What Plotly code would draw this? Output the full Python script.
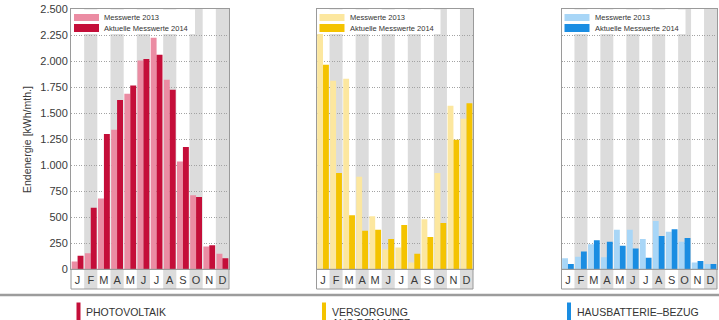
import plotly.graph_objects as go

months = ["J", "F", "M", "A", "M", "J", "J", "A", "S", "O", "N", "D"]
y_ticks = [0, 250, 500, 750, 1000, 1250, 1500, 1750, 2000, 2250, 2500]

pv_2013 = [75, 155, 680, 1340, 1685, 2005, 2225, 1820, 1035, 710, 220, 150]
pv_2014 = [130, 590, 1300, 1625, 1765, 2020, 2060, 1725, 1175, 695, 230, 105]
netz_2013 = [2330, 1810, 1830, 890, 510, 190, 210, 65, 480, 925, 1570, 1445]
netz_2014 = [1965, 925, 520, 370, 380, 290, 425, 150, 310, 445, 1245, 1595]
batt_2013 = [105, 120, 240, 115, 380, 380, 290, 465, 360, 265, 65, 50]
batt_2014 = [50, 170, 280, 265, 225, 200, 110, 320, 385, 300, 80, 50]

legend_labels = ["Messwerte 2013", "Aktuelle Messwerte 2014"]
panel_titles = [["PHOTOVOLTAIK"], ["VERSORGUNG", "AUS DEM NETZ"], ["HAUSBATTERIE\u2013BEZUG"]]
y_title = "Endenergie [kWh/mth.]"

W, H = 719, 320
FONT = "Liberation Sans, Arial, sans-serif"

panels = [
    dict(s13=pv_2013, s14=pv_2014, c13="#eb8ca3", c14="#c40e39", x0=71, x1=229),
    dict(s13=netz_2013, s14=netz_2014, c13="#fce79f", c14="#f4c300", x0=316.5, x1=473),
    dict(s13=batt_2013, s14=batt_2014, c13="#a8d6f7", c14="#1a8de2", x0=561.5, x1=717),
]

def px(x):
    return x / W

def py(y):
    return 1 - y / H

top_px, base_px, band_px = 9, 269.3, 289
x_idx = list(range(len(months)))

fig = go.Figure()
shapes = []
annotations = []

for k, p in enumerate(panels):
    sfx = "" if k == 0 else str(k + 1)
    xa, ya = "x" + sfx, "y" + sfx
    fig.add_trace(go.Bar(x=x_idx, y=p["s13"], marker=dict(color=p["c13"], line_width=0),
                         name=legend_labels[0], xaxis=xa, yaxis=ya, showlegend=False))
    fig.add_trace(go.Bar(x=x_idx, y=p["s14"], marker=dict(color=p["c14"], line_width=0),
                         name=legend_labels[1], xaxis=xa, yaxis=ya, showlegend=False))

    fig.update_layout(**{
        "xaxis" + sfx: dict(domain=[px(p["x0"]), px(p["x1"])], range=[-0.5, 11.5],
                            tickvals=x_idx, ticktext=months, ticks="", showgrid=False,
                            showline=True, mirror=True, linecolor="#9a9a9a", linewidth=1,
                            zeroline=False, anchor=ya, fixedrange=True, automargin=False,
                            tickfont=dict(family=FONT, size=11, color="#3a3a3a")),
        "yaxis" + sfx: dict(domain=[py(base_px), py(top_px)], range=[0, 2500],
                            tickvals=y_ticks, showticklabels=(k == 0),
                            separatethousands=True, ticks="", automargin=False,
                            showgrid=True, gridcolor="#a3a3a3", griddash="1px,1.5px", gridwidth=1,
                            showline=True, mirror=True, linecolor="#9a9a9a", linewidth=1,
                            zeroline=False, anchor=xa, fixedrange=True,
                            tickfont=dict(family=FONT, size=11, color="#3a3a3a")),
    })

    # alternating grey month stripes (plot area and month label band)
    for i in range(1, 12, 2):
        shapes.append(dict(type="rect", xref=xa, yref=ya + " domain", x0=i - 0.5, x1=i + 0.5,
                           y0=0, y1=1, fillcolor="#dcdcdc", line_width=0, layer="below"))
        shapes.append(dict(type="rect", xref=xa, yref="paper", x0=i - 0.5, x1=i + 0.5,
                           y0=py(band_px), y1=py(base_px), fillcolor="#dcdcdc", line_width=0,
                           layer="below"))
    # band outline
    shapes.append(dict(type="rect", xref="paper", yref="paper", x0=px(p["x0"]), x1=px(p["x1"]),
                       y0=py(band_px), y1=py(base_px), fillcolor="rgba(0,0,0,0)",
                       line=dict(color="#9a9a9a", width=1), layer="above"))

    # legend box
    lx = p["x0"]
    shapes.append(dict(type="rect", xref="paper", yref="paper", x0=px(lx + 0.5), x1=px(lx + 124),
                       y0=py(34), y1=py(9.5), fillcolor="white", line_width=0, layer="above"))
    shapes.append(dict(type="rect", xref="paper", yref="paper", x0=px(lx + 3), x1=px(lx + 28),
                       y0=py(21), y1=py(14), fillcolor=p["c13"], line_width=0, layer="above"))
    shapes.append(dict(type="rect", xref="paper", yref="paper", x0=px(lx + 3), x1=px(lx + 28),
                       y0=py(32), y1=py(24), fillcolor=p["c14"], line_width=0, layer="above"))
    annotations.append(dict(text=legend_labels[0], xref="paper", yref="paper", x=px(lx + 31),
                            y=py(17.8), xanchor="left", yanchor="middle", showarrow=False,
                            font=dict(family=FONT, size=7.5, color="#333333")))
    annotations.append(dict(text=legend_labels[1], xref="paper", yref="paper", x=px(lx + 31),
                            y=py(28.5), xanchor="left", yanchor="middle", showarrow=False,
                            font=dict(family=FONT, size=7.5, color="#333333")))

    # bottom category marker and label
    shapes.append(dict(type="rect", xref="paper", yref="paper", x0=px(lx + 5.5), x1=px(lx + 9.5),
                       y0=py(321), y1=py(302.5), fillcolor=p["c14"], line_width=0, layer="above"))
    for j, line in enumerate(panel_titles[k]):
        annotations.append(dict(text=line, xref="paper", yref="paper", x=px(lx + 13),
                                y=py(304 + 11 * j), xanchor="left", yanchor="top", align="left",
                                showarrow=False,
                                font=dict(family=FONT, size=10.5, color="#333333")))

# horizontal rule
shapes.append(dict(type="line", xref="paper", yref="paper", x0=0, x1=1, y0=py(295), y1=py(295),
                   line=dict(color="#9c9c9c", width=2.5), layer="above"))

# y-axis title
annotations.append(dict(text=y_title, xref="paper", yref="paper", x=px(27), y=py(140),
                        xanchor="center", yanchor="middle", textangle=-90, showarrow=False,
                        font=dict(family=FONT, size=10.5, color="#3a3a3a")))

fig.update_layout(
    width=W, height=H, margin=dict(l=0, r=0, t=0, b=0),
    paper_bgcolor="white", plot_bgcolor="white",
    barmode="group", bargap=0.1, bargroupgap=0,
    separators=",.", showlegend=False,
    shapes=shapes, annotations=annotations,
    font=dict(family=FONT),
)

fig.write_html("out.html", config={"displayModeBar": False})
